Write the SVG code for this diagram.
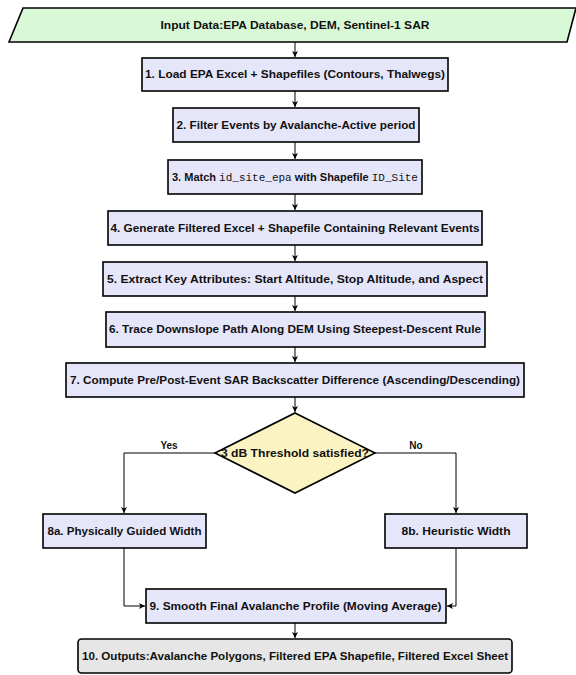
<svg xmlns="http://www.w3.org/2000/svg" width="576" height="675" viewBox="0 0 576 675">
<defs>
<marker id="arr" markerUnits="userSpaceOnUse" markerWidth="8" markerHeight="8" refX="6" refY="3" orient="auto">
<path d="M0,0 L6,3 L0,6 L1.5,3 z" fill="#000"/>
</marker>
<style>
.box{fill:#E6E6FA;stroke:#000;stroke-width:1.6}
.t{font-family:"Liberation Sans",Arial,sans-serif;font-weight:bold;font-size:10px;text-anchor:middle;fill:#111}
.m{font-family:"Liberation Mono","DejaVu Sans Mono",monospace;font-weight:normal}
.c{fill:none;stroke:#000;stroke-width:1;marker-end:url(#arr)}
</style>
</defs>
<rect width="576" height="675" fill="#fff"/>
<g id="input">
<polygon points="23,8 576,8 567,42 9,42" fill="#D9F9D6" stroke="#000" stroke-width="1.6"/>
<text class="t" x="295" y="28.5" textLength="269" lengthAdjust="spacingAndGlyphs">Input Data:EPA Database, DEM, Sentinel-1 SAR</text>
</g>
<g id="n1">
<rect class="box" x="142" y="58" width="306" height="33"/>
<text class="t" x="295" y="78" textLength="300" lengthAdjust="spacingAndGlyphs">1.  Load EPA Excel + Shapefiles (Contours, Thalwegs)</text>
</g>
<g id="n2">
<rect class="box" x="173" y="108" width="246" height="34"/>
<text class="t" x="296" y="128.5" textLength="239" lengthAdjust="spacingAndGlyphs">2.  Filter Events by Avalanche-Active period</text>
</g>
<g id="n3">
<rect class="box" x="168" y="160" width="254" height="34"/>
<text class="t" x="295" y="180.5" textLength="246" lengthAdjust="spacingAndGlyphs">3.  Match <tspan class="m">id_site_epa</tspan> with Shapefile <tspan class="m">ID_Site</tspan></text>
</g>
<g id="n4">
<rect class="box" x="108" y="211" width="374" height="34"/>
<text class="t" x="295" y="231.5" textLength="369" lengthAdjust="spacingAndGlyphs">4.  Generate Filtered Excel + Shapefile Containing Relevant Events</text>
</g>
<g id="n5">
<rect class="box" x="103" y="262" width="384" height="34"/>
<text class="t" x="295" y="282.5" textLength="376" lengthAdjust="spacingAndGlyphs">5.  Extract Key Attributes: Start Altitude, Stop Altitude, and Aspect</text>
</g>
<g id="n6">
<rect class="box" x="106" y="312" width="379" height="35"/>
<text class="t" x="295" y="333" textLength="372" lengthAdjust="spacingAndGlyphs">6.  Trace Downslope Path Along DEM Using Steepest-Descent Rule</text>
</g>
<g id="n7">
<rect class="box" x="66" y="363" width="458" height="34"/>
<text class="t" x="295" y="383.5" textLength="450" lengthAdjust="spacingAndGlyphs">7.  Compute Pre/Post-Event SAR Backscatter Difference (Ascending/Descending)</text>
</g>
<g id="decision">
<polygon points="295,413 375,453 295,493 215,453" fill="#FBF3C2" stroke="#000" stroke-width="1.6"/>
<text class="t" x="295" y="456.5" textLength="148" lengthAdjust="spacingAndGlyphs">3 dB Threshold satisfied?</text>
</g>
<g id="n8a">
<rect class="box" x="43" y="514" width="163" height="34"/>
<text class="t" x="124.5" y="534.5" textLength="154" lengthAdjust="spacingAndGlyphs">8a.  Physically Guided Width</text>
</g>
<g id="n8b">
<rect class="box" x="385" y="514" width="142" height="34"/>
<text class="t" x="456" y="534.5" textLength="109" lengthAdjust="spacingAndGlyphs">8b.  Heuristic Width</text>
</g>
<g id="n9">
<rect class="box" x="146" y="589" width="300" height="34"/>
<text class="t" x="295.5" y="609.5" textLength="292" lengthAdjust="spacingAndGlyphs">9.  Smooth Final Avalanche Profile (Moving Average)</text>
</g>
<g id="n10">
<rect x="78" y="639" width="434" height="34" rx="3.5" fill="#E6E6E6" stroke="#000" stroke-width="1.6"/>
<text class="t" x="295" y="659.5" textLength="426" lengthAdjust="spacingAndGlyphs">10.  Outputs:Avalanche Polygons, Filtered EPA Shapefile, Filtered Excel Sheet</text>
</g>
<g id="connectors">
<path class="c" d="M295,42 V57"/>
<path class="c" d="M295,91 V107"/>
<path class="c" d="M295,142 V159"/>
<path class="c" d="M295,194 V210"/>
<path class="c" d="M295,245 V261"/>
<path class="c" d="M295,296 V311"/>
<path class="c" d="M295,347 V362"/>
<path class="c" d="M295,397 V412"/>
<path class="c" d="M215,453 H124 V513"/>
<path class="c" d="M375,453 H456 V513"/>
<path class="c" d="M124,548 V606 H145"/>
<path class="c" d="M456,548 V606 H447"/>
<path class="c" d="M295,623 V638"/>
<text class="t" x="169" y="449">Yes</text>
<text class="t" x="416" y="449">No</text>
</g>
</svg>
